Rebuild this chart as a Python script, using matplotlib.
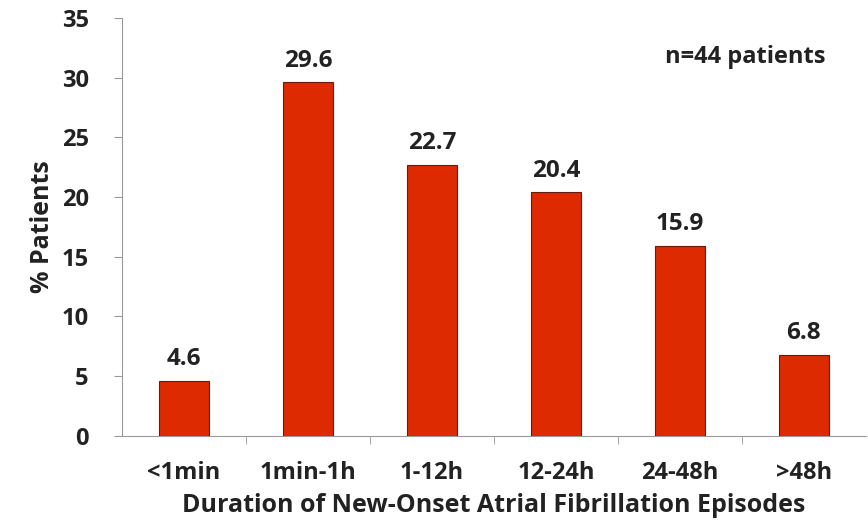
import matplotlib.pyplot as plt

plt.rcParams['font.family'] = ['Open Sans', 'DejaVu Sans']
plt.rcParams['font.weight'] = 'bold'

categories = ['<1min', '1min-1h', '1-12h', '12-24h', '24-48h', '>48h']
values = [4.6, 29.6, 22.7, 20.4, 15.9, 6.8]

fig = plt.figure(figsize=(8.68, 5.24), dpi=100)
ax = fig.add_axes([0.1406, 0.168, 0.857, 0.798])

x = list(range(len(categories)))
ax.bar(x, values, width=0.4, color='#DD2A00', edgecolor='#6a1a0a', linewidth=0.8, zorder=3)
for xi, v in zip(x, values):
    ax.text(xi, v + 0.8, f'{v:.1f}', ha='center', va='bottom', fontsize=17.5, fontweight='bold', color='#222222')

ax.set_xlim(-0.5, len(categories) - 0.5)
ax.set_ylim(0, 35)
ax.set_yticks(range(0, 36, 5))
ax.set_xticks(x)
ax.set_xticklabels(categories)
ax.set_xticks([i + 0.5 for i in x[:-1]], minor=True)
ax.tick_params(axis='x', which='major', length=0, pad=18, labelsize=17, labelcolor='#222222')
ax.tick_params(axis='x', which='minor', length=6, direction='out', color='#999999')
ax.tick_params(axis='y', length=6, direction='out', color='#999999', pad=18, labelsize=17, labelcolor='#222222')

for s in ['top', 'right']:
    ax.spines[s].set_visible(False)
for s in ['left', 'bottom']:
    ax.spines[s].set_color('#999999')

ax.set_xlabel('Duration of New-Onset Atrial Fibrillation Episodes', fontsize=18, fontweight='bold', color='#222222', labelpad=6)
ax.set_ylabel('% Patients', fontsize=18, fontweight='bold', color='#222222', labelpad=5)
ax.text(3.88, 31.7, 'n=44 patients', fontsize=17, fontweight='bold', color='#222222', va='center', ha='left')

fig.savefig('out.png', dpi=100)
